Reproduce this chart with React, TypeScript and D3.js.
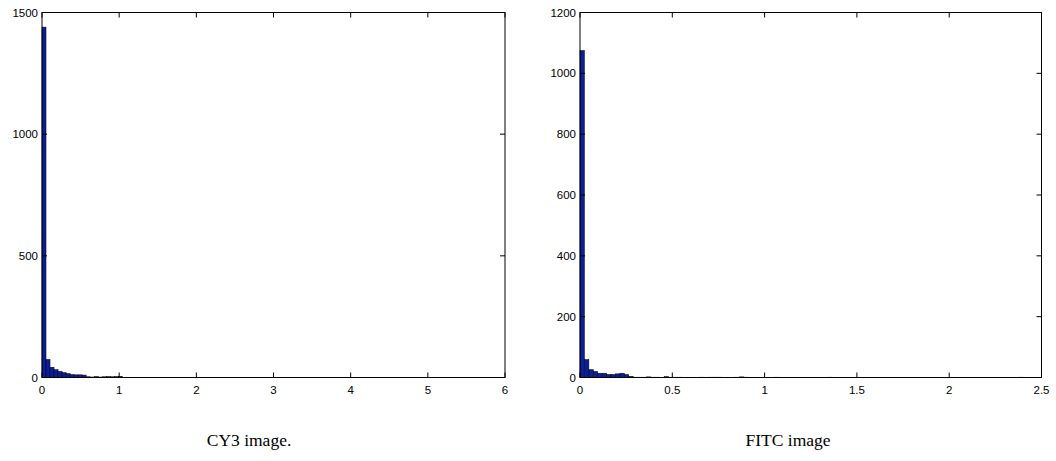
import React from "react";
import * as d3 from "d3";

// CY3 histogram: bin width and counts (100 bins)
const cy3BinWidth = 0.052;
const cy3Counts: number[] = [
  1440, 74, 42, 32, 25, 20, 16, 12, 11, 11,
  10, 3, 2, 4, 2, 3, 4, 3, 4, 5,
  1, 1, 0, 0, 0, 1, 0, 1, 0, 1,
  0, 1, 0, 1, 0, 1, 0, 0, 0, 0,
  0, 0, 0, 0, 0, 0, 1, 0, 0, 0,
  1, 0, 0, 0, 1, 0, 0, 0, 0, 0,
  0, 1, 0, 0, 0, 0, 0, 0, 0, 0,
  0, 0, 0, 0, 0, 0, 0, 0, 1, 0,
  0, 0, 0, 1, 0, 0, 0, 0, 0, 0,
  0, 0, 0, 0, 0, 0, 0, 0, 1, 0,
];
const cy3XTicks = [0, 1, 2, 3, 4, 5, 6];
const cy3YTicks = [0, 500, 1000, 1500];

// FITC histogram: bin width and counts (100 bins)
const fitcBinWidth = 0.024;
const fitcCounts: number[] = [
  1075, 59, 26, 20, 14, 14, 10, 10, 12, 14,
  10, 4, 1, 1, 1, 2, 1, 1, 0, 3,
  1, 1, 1, 0, 0, 0, 0, 1, 0, 1,
  1, 1, 0, 0, 0, 1, 2, 1, 0, 0,
  0, 0, 0, 0, 1, 0, 0, 0, 0, 0,
  0, 0, 0, 0, 0, 0, 1, 0, 0, 0,
  0, 0, 0, 0, 0, 0, 0, 0, 0, 0,
  0, 0, 0, 0, 0, 0, 0, 0, 0, 0,
  0, 0, 0, 0, 0, 0, 0, 0, 0, 0,
  0, 0, 0, 0, 0, 0, 0, 0, 0, 1,
];
const fitcXTicks = [0, 0.5, 1, 1.5, 2, 2.5];
const fitcYTicks = [0, 200, 400, 600, 800, 1000, 1200];

const titles = ["CY3 image.", "FITC image"];

type PanelProps = {
  left: number;
  right: number;
  top: number;
  bottom: number;
  xMax: number;
  yMax: number;
  binWidth: number;
  counts: number[];
  xTicks: number[];
  yTicks: number[];
  title: string;
  titleX: number;
  titleY: number;
};

function Panel(p: PanelProps) {
  const x = d3.scaleLinear().domain([0, p.xMax]).range([p.left, p.right]);
  const y = d3.scaleLinear().domain([0, p.yMax]).range([p.bottom, p.top]);
  const tick = 5;
  const fmt = (v: number) => String(v);
  return (
    <g>
      {p.counts.map((c, i) =>
        c > 0 ? (
          <rect
            key={i}
            x={x(i * p.binWidth)}
            y={y(c)}
            width={x((i + 1) * p.binWidth) - x(i * p.binWidth)}
            height={p.bottom - y(c)}
            fill="#0a1f9c"
            stroke="#000"
            strokeWidth={0.5}
          />
        ) : null
      )}
      <rect
        x={p.left}
        y={p.top}
        width={p.right - p.left}
        height={p.bottom - p.top}
        fill="none"
        stroke="#000"
        strokeWidth={1}
      />
      {p.xTicks.map((t) => (
        <g key={"x" + t}>
          <line x1={x(t)} x2={x(t)} y1={p.bottom} y2={p.bottom - tick} stroke="#000" />
          <line x1={x(t)} x2={x(t)} y1={p.top} y2={p.top + tick} stroke="#000" />
          <text
            x={x(t)}
            y={p.bottom + 16}
            textAnchor="middle"
            fontFamily="Liberation Sans, Arial, sans-serif"
            fontSize={11.5}
            fill="#000"
          >
            {fmt(t)}
          </text>
        </g>
      ))}
      {p.yTicks.map((t) => (
        <g key={"y" + t}>
          <line x1={p.left} x2={p.left + tick} y1={y(t)} y2={y(t)} stroke="#000" />
          <line x1={p.right} x2={p.right - tick} y1={y(t)} y2={y(t)} stroke="#000" />
          <text
            x={p.left - 4}
            y={y(t) + 4}
            textAnchor="end"
            fontFamily="Liberation Sans, Arial, sans-serif"
            fontSize={11.5}
            fill="#000"
          >
            {fmt(t)}
          </text>
        </g>
      ))}
      <text
        x={p.titleX}
        y={p.titleY}
        textAnchor="middle"
        fontFamily="Liberation Serif, Times New Roman, serif"
        fontSize={17.5}
        fill="#000"
      >
        {p.title}
      </text>
    </g>
  );
}

export default function App() {
  return (
    <svg
      width={1056}
      height={461}
      style={{ position: "absolute", left: 0, top: 0, background: "#fff" }}
    >
      <Panel
        left={42}
        right={505}
        top={12.5}
        bottom={377.5}
        xMax={6}
        yMax={1500}
        binWidth={cy3BinWidth}
        counts={cy3Counts}
        xTicks={cy3XTicks}
        yTicks={cy3YTicks}
        title={titles[0]}
        titleX={249}
        titleY={446}
      />
      <Panel
        left={580}
        right={1041.5}
        top={12.5}
        bottom={377.5}
        xMax={2.5}
        yMax={1200}
        binWidth={fitcBinWidth}
        counts={fitcCounts}
        xTicks={fitcXTicks}
        yTicks={fitcYTicks}
        title={titles[1]}
        titleX={788}
        titleY={446}
      />
    </svg>
  );
}
